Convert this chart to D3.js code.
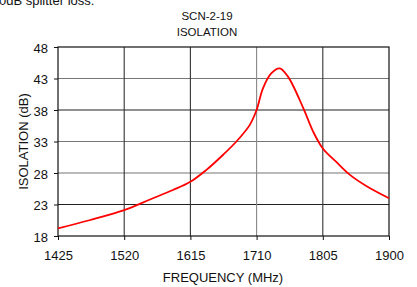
<!DOCTYPE html>
<html><head><meta charset="utf-8">
<script src="https://cdn.jsdelivr.net/npm/d3@7"></script>
<style>body{margin:0;background:#fff;}svg{display:block;font-family:"Liberation Sans",Arial,sans-serif;}</style>
</head><body>
<script>
const freq = [1425, 1470, 1520, 1557, 1590, 1615, 1638, 1662, 1681, 1700, 1710, 1719, 1731, 1743, 1755, 1777, 1791, 1805, 1824, 1844, 1868, 1900];
const isolation = [19.2, 20.5, 22.1, 23.8, 25.3, 26.6, 28.5, 30.9, 33.0, 35.6, 38.0, 41.4, 43.8, 44.6, 43.3, 38.3, 34.6, 31.9, 29.8, 27.7, 25.9, 24.0];
const xTicks = [1425, 1520, 1615, 1710, 1805, 1900];
const yTicks = [18, 23, 28, 33, 38, 43, 48];
const titleLines = ["SCN-2-19", "ISOLATION"];
const xLabel = "FREQUENCY (MHz)";
const yLabel = "ISOLATION (dB)";
const topNote = "0dB splitter loss.";

const W = 417, H = 287;
const m = {l: 58, r: 389, t: 47, b: 236};
const svg = d3.select("body").append("svg").attr("width", W).attr("height", H);
const x = d3.scaleLinear().domain([1425, 1900]).range([m.l, m.r]);
const y = d3.scaleLinear().domain([18, 48]).range([m.b, m.t]);

svg.append("text").attr("x", -1).attr("y", 5).attr("font-size", 13).attr("fill", "#111").text(topNote);
titleLines.forEach((t, i) => svg.append("text").attr("x", 207).attr("y", 20 + i * 16)
  .attr("text-anchor", "middle").attr("font-size", 11.5).attr("fill", "#111").text(t));

const grayH = new Set([43, 33, 28]);
svg.append("g").selectAll("line").data(yTicks.slice(1, -1)).join("line")
  .attr("x1", m.l).attr("x2", m.r).attr("y1", d => y(d)).attr("y2", d => y(d))
  .attr("stroke", d => grayH.has(d) ? "#777" : "#222").attr("stroke-width", 1.1);
const grayV = new Set([1710]);
svg.append("g").selectAll("line").data(xTicks.slice(1, -1)).join("line")
  .attr("x1", d => x(d)).attr("x2", d => x(d)).attr("y1", m.t).attr("y2", m.b)
  .attr("stroke", d => grayV.has(d) ? "#888" : "#333").attr("stroke-width", 1.1);
svg.append("rect").attr("x", m.l).attr("y", m.t).attr("width", m.r - m.l).attr("height", m.b - m.t)
  .attr("fill", "none").attr("stroke", "#111").attr("stroke-width", 1.2);

const yAxis = svg.append("g").attr("transform", `translate(${m.l},0)`)
  .call(d3.axisLeft(y).tickValues(yTicks).tickSize(4).tickPadding(6));
const xAxis = svg.append("g").attr("transform", `translate(0,${m.b})`)
  .call(d3.axisBottom(x).tickValues(xTicks).tickFormat(d3.format("d")).tickSize(4).tickPadding(11));
[yAxis, xAxis].forEach(a => {
  a.select(".domain").remove();
  a.selectAll("line").attr("stroke", "#111");
  a.selectAll("text").attr("font-size", 13).attr("fill", "#111").attr("font-family", "Liberation Sans, Arial, sans-serif");
});
yAxis.selectAll("text").attr("dy", "0.42em");

svg.append("text").attr("x", 223).attr("y", 282).attr("text-anchor", "middle").attr("font-size", 13).attr("fill", "#111").text(xLabel);
svg.append("text").attr("transform", "translate(28,141.5) rotate(-90)").attr("text-anchor", "middle").attr("font-size", 13).attr("fill", "#111").text(yLabel);

const line = d3.line().x((d, i) => x(freq[i])).y(d => y(d)).curve(d3.curveCatmullRom.alpha(0.5));
svg.append("path").datum(isolation).attr("d", line).attr("fill", "none").attr("stroke", "#f00").attr("stroke-width", 1.8);
</script>
</body></html>
